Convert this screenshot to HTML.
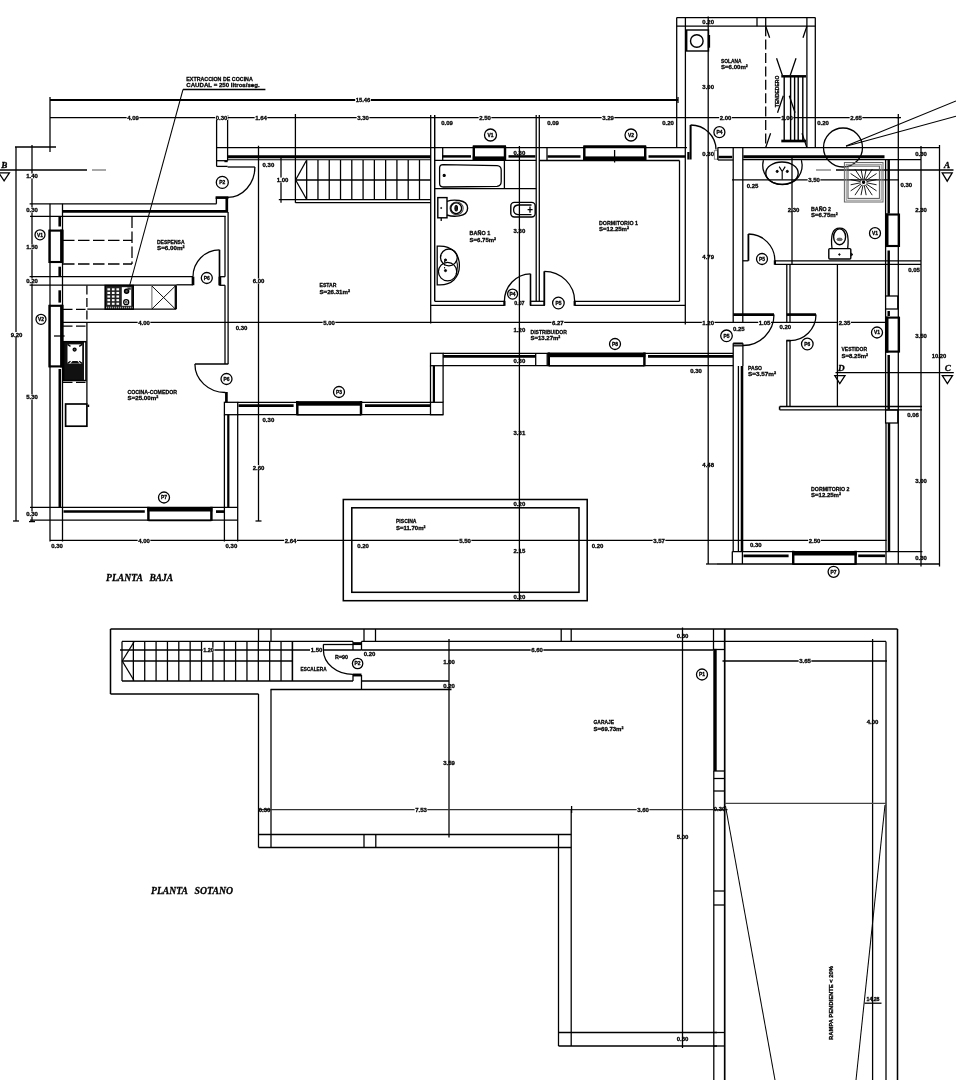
<!DOCTYPE html>
<html lang="es"><head><meta charset="utf-8"><title>Planta baja y planta sotano</title>
<style>
html,body{margin:0;padding:0;background:#fff;}
body{width:956px;height:1080px;overflow:hidden;font-family:"Liberation Sans", "DejaVu Sans", sans-serif;}
svg{display:block;}
text{font-family:"Liberation Sans", "DejaVu Sans", sans-serif;stroke:#000;stroke-width:0.3px;}
text.sf{font-family:"Liberation Serif","DejaVu Serif",serif;}
</style></head><body>
<svg width="956" height="1080" viewBox="0 0 956 1080">
<rect x="0" y="0" width="956" height="1080" fill="#fff"/>
<defs><filter id="gs" x="0" y="0" width="956" height="1080" filterUnits="userSpaceOnUse" color-interpolation-filters="sRGB"><feColorMatrix type="saturate" values="0"/><feGaussianBlur stdDeviation="0.38"/></filter></defs>
<g filter="url(#gs)">
<line x1="50" y1="100" x2="678" y2="100" stroke="#000" stroke-width="1.79"/>
<line x1="50" y1="97" x2="50" y2="152" stroke="#000" stroke-width="1.28"/>
<line x1="678" y1="97" x2="678" y2="103" stroke="#000" stroke-width="1.28"/>
<line x1="50" y1="117.6" x2="899.5" y2="117.6" stroke="#000" stroke-width="1.28"/>
<line x1="216.6" y1="115" x2="216.6" y2="166.4" stroke="#000" stroke-width="1.28"/>
<line x1="227.6" y1="115" x2="227.6" y2="160.7" stroke="#000" stroke-width="1.28"/>
<line x1="295.4" y1="114" x2="295.4" y2="202.8" stroke="#000" stroke-width="1.28"/>
<rect x="355.18" y="97.56" width="15.64" height="4.88" fill="#fff"/>
<text x="363" y="102.2" font-size="6.1" text-anchor="middle" font-weight="bold" fill="#000" textLength="14.64" lengthAdjust="spacingAndGlyphs">15.46</text>
<rect x="126.64" y="115.16" width="12.71" height="4.88" fill="#fff"/>
<text x="133" y="119.8" font-size="6.1" text-anchor="middle" font-weight="bold" fill="#000" textLength="11.71" lengthAdjust="spacingAndGlyphs">4.09</text>
<rect x="215.14" y="115.16" width="12.71" height="4.88" fill="#fff"/>
<text x="221.5" y="119.8" font-size="6.1" text-anchor="middle" font-weight="bold" fill="#000" textLength="11.71" lengthAdjust="spacingAndGlyphs">0.30</text>
<rect x="254.64" y="115.16" width="12.71" height="4.88" fill="#fff"/>
<text x="261" y="119.8" font-size="6.1" text-anchor="middle" font-weight="bold" fill="#000" textLength="11.71" lengthAdjust="spacingAndGlyphs">1.64</text>
<rect x="356.64" y="115.16" width="12.71" height="4.88" fill="#fff"/>
<text x="363" y="119.8" font-size="6.1" text-anchor="middle" font-weight="bold" fill="#000" textLength="11.71" lengthAdjust="spacingAndGlyphs">3.30</text>
<rect x="478.64" y="115.16" width="12.71" height="4.88" fill="#fff"/>
<text x="485" y="119.8" font-size="6.1" text-anchor="middle" font-weight="bold" fill="#000" textLength="11.71" lengthAdjust="spacingAndGlyphs">2.50</text>
<rect x="601.64" y="115.16" width="12.71" height="4.88" fill="#fff"/>
<text x="608" y="119.8" font-size="6.1" text-anchor="middle" font-weight="bold" fill="#000" textLength="11.71" lengthAdjust="spacingAndGlyphs">3.29</text>
<rect x="719.14" y="115.16" width="12.71" height="4.88" fill="#fff"/>
<text x="725.5" y="119.8" font-size="6.1" text-anchor="middle" font-weight="bold" fill="#000" textLength="11.71" lengthAdjust="spacingAndGlyphs">2.00</text>
<rect x="780.64" y="115.16" width="12.71" height="4.88" fill="#fff"/>
<text x="787" y="119.8" font-size="6.1" text-anchor="middle" font-weight="bold" fill="#000" textLength="11.71" lengthAdjust="spacingAndGlyphs">1.00</text>
<rect x="849.64" y="115.16" width="12.71" height="4.88" fill="#fff"/>
<text x="856" y="119.8" font-size="6.1" text-anchor="middle" font-weight="bold" fill="#000" textLength="11.71" lengthAdjust="spacingAndGlyphs">2.65</text>
<text x="447" y="124.5" font-size="6.1" text-anchor="middle" font-weight="bold" fill="#000" textLength="11.71" lengthAdjust="spacingAndGlyphs">0.09</text>
<text x="553" y="124.5" font-size="6.1" text-anchor="middle" font-weight="bold" fill="#000" textLength="11.71" lengthAdjust="spacingAndGlyphs">0.09</text>
<text x="668" y="124.5" font-size="6.1" text-anchor="middle" font-weight="bold" fill="#000" textLength="11.71" lengthAdjust="spacingAndGlyphs">0.20</text>
<text x="823" y="124.5" font-size="6.1" text-anchor="middle" font-weight="bold" fill="#000" textLength="11.71" lengthAdjust="spacingAndGlyphs">0.20</text>
<text x="186.3" y="80.83" font-size="6.2" text-anchor="start" font-weight="bold" fill="#000" textLength="66.5" lengthAdjust="spacingAndGlyphs">EXTRACCION DE COCINA</text>
<text x="186.3" y="87.43" font-size="6.2" text-anchor="start" font-weight="bold" fill="#000" textLength="73.4" lengthAdjust="spacingAndGlyphs">CAUDAL = 250 litros/seg.</text>
<line x1="183" y1="89.5" x2="265.4" y2="89.5" stroke="#000" stroke-width="1.28"/>
<line x1="183" y1="89.5" x2="128.6" y2="289.4" stroke="#000" stroke-width="1.02"/>
<line x1="15" y1="147" x2="56" y2="147" stroke="#000" stroke-width="1.28"/>
<line x1="16" y1="147" x2="16" y2="521" stroke="#000" stroke-width="1.28"/>
<line x1="32" y1="145" x2="32" y2="522" stroke="#000" stroke-width="1.28"/>
<line x1="13" y1="521" x2="19" y2="521" stroke="#000" stroke-width="1.28"/>
<line x1="29" y1="521.6" x2="35" y2="521.6" stroke="#000" stroke-width="1.28"/>
<rect x="25.64" y="173.56" width="12.71" height="4.88" fill="#fff"/>
<text x="32" y="178.2" font-size="6.1" text-anchor="middle" font-weight="bold" fill="#000" textLength="11.71" lengthAdjust="spacingAndGlyphs">1.40</text>
<rect x="25.64" y="207.56" width="12.71" height="4.88" fill="#fff"/>
<text x="32" y="212.2" font-size="6.1" text-anchor="middle" font-weight="bold" fill="#000" textLength="11.71" lengthAdjust="spacingAndGlyphs">0.30</text>
<rect x="25.64" y="244.56" width="12.71" height="4.88" fill="#fff"/>
<text x="32" y="249.2" font-size="6.1" text-anchor="middle" font-weight="bold" fill="#000" textLength="11.71" lengthAdjust="spacingAndGlyphs">1.50</text>
<rect x="25.64" y="278.56" width="12.71" height="4.88" fill="#fff"/>
<text x="32" y="283.2" font-size="6.1" text-anchor="middle" font-weight="bold" fill="#000" textLength="11.71" lengthAdjust="spacingAndGlyphs">0.20</text>
<rect x="25.64" y="394.56" width="12.71" height="4.88" fill="#fff"/>
<text x="32" y="399.2" font-size="6.1" text-anchor="middle" font-weight="bold" fill="#000" textLength="11.71" lengthAdjust="spacingAndGlyphs">5.30</text>
<rect x="25.64" y="511.56" width="12.71" height="4.88" fill="#fff"/>
<text x="32" y="516.2" font-size="6.1" text-anchor="middle" font-weight="bold" fill="#000" textLength="11.71" lengthAdjust="spacingAndGlyphs">0.30</text>
<rect x="10.14" y="332.06" width="12.71" height="4.88" fill="#fff"/>
<text x="16.5" y="336.7" font-size="6.1" text-anchor="middle" font-weight="bold" fill="#000" textLength="11.71" lengthAdjust="spacingAndGlyphs">9.20</text>
<text x="4.2" y="167.71" font-size="9.2" text-anchor="middle" font-weight="bold" fill="#000" class="sf" font-style="italic">B</text>
<line x1="0" y1="170" x2="87" y2="170" stroke="#000" stroke-width="1.28"/>
<line x1="92" y1="170" x2="106" y2="170" stroke="#777" stroke-width="1.28"/>
<path d="M-1.2 172.8 L9.4 172.8 L4.1 180.8 Z" fill="none" stroke="#000" stroke-width="1.28"/>
<line x1="29.6" y1="203.8" x2="216.5" y2="203.8" stroke="#000" stroke-width="1.28"/>
<line x1="216.4" y1="197.4" x2="216.4" y2="203.8" stroke="#000" stroke-width="1.28"/>
<line x1="215.6" y1="197.6" x2="228.4" y2="197.6" stroke="#000" stroke-width="2.69"/>
<line x1="226.8" y1="197" x2="226.8" y2="212" stroke="#000" stroke-width="2.69"/>
<line x1="62.5" y1="211.4" x2="228" y2="211.4" stroke="#000" stroke-width="2.69"/>
<line x1="30" y1="216.3" x2="225.7" y2="216.3" stroke="#000" stroke-width="1.28"/>
<line x1="50" y1="203.8" x2="50" y2="541.5" stroke="#000" stroke-width="1.28"/>
<line x1="62.5" y1="203.8" x2="62.5" y2="541.5" stroke="#000" stroke-width="1.28"/>
<line x1="59.7" y1="217" x2="59.7" y2="226.5" stroke="#000" stroke-width="2.58"/>
<rect x="60.1" y="229.6" width="3.5" height="33.4" fill="#000" stroke="#000" stroke-width="0"/>
<line x1="49.4" y1="229.6" x2="49.4" y2="263" stroke="#000" stroke-width="2.13"/>
<line x1="49.4" y1="230.6" x2="63" y2="230.6" stroke="#000" stroke-width="2.13"/>
<line x1="49.4" y1="262" x2="63" y2="262" stroke="#000" stroke-width="2.13"/>
<line x1="59.7" y1="266.7" x2="59.7" y2="276" stroke="#000" stroke-width="2.58"/>
<circle cx="40" cy="234.8" r="5" fill="#fff" stroke="#000" stroke-width="1.28"/>
<text x="40" y="236.73" font-size="4.8" text-anchor="middle" font-weight="bold" fill="#000" textLength="6" lengthAdjust="spacingAndGlyphs">V1</text>
<line x1="63" y1="240.3" x2="132" y2="240.3" stroke="#000" stroke-width="1.28" stroke-dasharray="11.5 3.5"/>
<line x1="63" y1="264" x2="132" y2="264" stroke="#000" stroke-width="1.28" stroke-dasharray="11.5 3.5"/>
<line x1="132" y1="216.5" x2="132" y2="264" stroke="#000" stroke-width="1.28" stroke-dasharray="11.5 3.5"/>
<text x="157" y="243.63" font-size="6.2" text-anchor="start" font-weight="bold" fill="#000" textLength="27.5" lengthAdjust="spacingAndGlyphs">DESPENSA</text>
<text x="157" y="250.23" font-size="6.2" text-anchor="start" font-weight="bold" fill="#000" textLength="27.5" lengthAdjust="spacingAndGlyphs">S=6.00m²</text>
<line x1="29.6" y1="276.7" x2="193" y2="276.7" stroke="#000" stroke-width="1.28"/>
<line x1="29.6" y1="285.2" x2="176.3" y2="285.2" stroke="#000" stroke-width="1.28"/>
<line x1="176.3" y1="284.8" x2="193" y2="284.8" stroke="#000" stroke-width="1.28"/>
<line x1="193" y1="276.7" x2="193" y2="285.2" stroke="#000" stroke-width="2.69"/>
<line x1="225" y1="216.3" x2="225" y2="276.7" stroke="#000" stroke-width="1.28"/>
<line x1="228.1" y1="212" x2="228.1" y2="364" stroke="#000" stroke-width="1.28"/>
<line x1="219.5" y1="249.8" x2="219.5" y2="285.3" stroke="#000" stroke-width="1.68"/>
<line x1="219.5" y1="276.7" x2="225" y2="276.7" stroke="#000" stroke-width="1.28"/>
<line x1="219.5" y1="285.3" x2="225" y2="285.3" stroke="#000" stroke-width="1.28"/>
<line x1="219.9" y1="276.7" x2="219.9" y2="285.3" stroke="#000" stroke-width="2.69"/>
<line x1="225" y1="285.2" x2="225" y2="364" stroke="#000" stroke-width="1.28"/>
<path d="M219.5 249.8 A26.7 26.9 0 0 0 193 276.7" fill="none" stroke="#000" stroke-width="1.28"/>
<circle cx="206.8" cy="278" r="5.5" fill="#fff" stroke="#000" stroke-width="1.28"/>
<text x="206.8" y="279.93" font-size="4.8" text-anchor="middle" font-weight="bold" fill="#000" textLength="6" lengthAdjust="spacingAndGlyphs">P6</text>
<line x1="59.7" y1="290.3" x2="59.7" y2="302.6" stroke="#000" stroke-width="2.58"/>
<rect x="60.1" y="304.8" width="3.5" height="62.6" fill="#000" stroke="#000" stroke-width="0"/>
<line x1="49.4" y1="304.8" x2="49.4" y2="367.4" stroke="#000" stroke-width="2.13"/>
<line x1="49.4" y1="305.8" x2="63" y2="305.8" stroke="#000" stroke-width="2.13"/>
<line x1="49.4" y1="366.4" x2="63" y2="366.4" stroke="#000" stroke-width="2.13"/>
<line x1="54" y1="336" x2="64.6" y2="336" stroke="#000" stroke-width="1.28"/>
<line x1="59.8" y1="369" x2="59.8" y2="507.5" stroke="#000" stroke-width="2.58"/>
<circle cx="41" cy="319.3" r="5" fill="#fff" stroke="#000" stroke-width="1.28"/>
<text x="41" y="321.23" font-size="4.8" text-anchor="middle" font-weight="bold" fill="#000" textLength="6" lengthAdjust="spacingAndGlyphs">V2</text>
<line x1="176.3" y1="285.2" x2="176.3" y2="309.1" stroke="#000" stroke-width="1.28"/>
<line x1="87.3" y1="309.1" x2="176.3" y2="309.1" stroke="#000" stroke-width="1.28"/>
<line x1="151.9" y1="285.2" x2="151.9" y2="309.1" stroke="#666" stroke-width="1.02"/>
<line x1="175.3" y1="285.2" x2="175.3" y2="309.1" stroke="#000" stroke-width="1.28"/>
<line x1="151.9" y1="286" x2="175.3" y2="309" stroke="#000" stroke-width="0.96"/>
<line x1="151.9" y1="309" x2="175.3" y2="286" stroke="#000" stroke-width="0.96"/>
<rect x="105.2" y="285.5" width="28" height="23.6" fill="#222" stroke="#000" stroke-width="1.57"/>
<rect x="107.4" y="288.3" width="2.7" height="2.1" fill="#fff" stroke="#000" stroke-width="0"/>
<rect x="107.4" y="291.9" width="2.7" height="2.1" fill="#fff" stroke="#000" stroke-width="0"/>
<rect x="107.4" y="295.5" width="2.7" height="2.1" fill="#fff" stroke="#000" stroke-width="0"/>
<rect x="107.4" y="299.1" width="2.7" height="2.1" fill="#fff" stroke="#000" stroke-width="0"/>
<rect x="107.4" y="302.7" width="2.7" height="2.1" fill="#fff" stroke="#000" stroke-width="0"/>
<rect x="111.9" y="288.3" width="2.7" height="2.1" fill="#fff" stroke="#000" stroke-width="0"/>
<rect x="111.9" y="291.9" width="2.7" height="2.1" fill="#fff" stroke="#000" stroke-width="0"/>
<rect x="111.9" y="295.5" width="2.7" height="2.1" fill="#fff" stroke="#000" stroke-width="0"/>
<rect x="111.9" y="299.1" width="2.7" height="2.1" fill="#fff" stroke="#000" stroke-width="0"/>
<rect x="111.9" y="302.7" width="2.7" height="2.1" fill="#fff" stroke="#000" stroke-width="0"/>
<rect x="116.4" y="288.3" width="2.7" height="2.1" fill="#fff" stroke="#000" stroke-width="0"/>
<rect x="116.4" y="291.9" width="2.7" height="2.1" fill="#fff" stroke="#000" stroke-width="0"/>
<rect x="116.4" y="295.5" width="2.7" height="2.1" fill="#fff" stroke="#000" stroke-width="0"/>
<rect x="116.4" y="299.1" width="2.7" height="2.1" fill="#fff" stroke="#000" stroke-width="0"/>
<rect x="116.4" y="302.7" width="2.7" height="2.1" fill="#fff" stroke="#000" stroke-width="0"/>
<rect x="121.8" y="287.2" width="9.4" height="18.6" fill="#fff" stroke="#000" stroke-width="0"/>
<circle cx="126.6" cy="291.2" r="2" fill="#555" stroke="#000" stroke-width="1.57"/>
<rect x="127.4" y="287.4" width="3.4" height="2.4" fill="#333" stroke="#000" stroke-width="0"/>
<circle cx="126.2" cy="302.2" r="2.5" fill="none" stroke="#000" stroke-width="1.28"/>
<circle cx="126.2" cy="302.2" r="0.9" fill="none" stroke="#000" stroke-width="0.77"/>
<line x1="106" y1="307.6" x2="132.6" y2="307.6" stroke="#aaa" stroke-width="1.54" stroke-dasharray="1.2 0.8"/>
<line x1="86.9" y1="285.5" x2="86.9" y2="326" stroke="#000" stroke-width="1.28" stroke-dasharray="9 3.5"/>
<line x1="86.9" y1="326" x2="86.9" y2="403.7" stroke="#000" stroke-width="1.28"/>
<line x1="63" y1="309.4" x2="86.9" y2="309.4" stroke="#000" stroke-width="1.28" stroke-dasharray="9.5 3.5"/>
<line x1="63" y1="326.2" x2="86.9" y2="326.2" stroke="#000" stroke-width="1.28" stroke-dasharray="9.5 3.5"/>
<line x1="63" y1="382.3" x2="86.9" y2="382.3" stroke="#000" stroke-width="1.28" stroke-dasharray="9.5 3.5"/>
<rect x="63.6" y="341.7" width="22.3" height="38.8" fill="#111" stroke="#000" stroke-width="1.54"/>
<rect x="67.5" y="344.4" width="14.7" height="19.2" fill="#fff" stroke="#000" stroke-width="0"/>
<rect x="84" y="342.5" width="1.2" height="37.3" fill="#fff" stroke="#000" stroke-width="0"/>
<circle cx="74.6" cy="349.6" r="1.5" fill="#555" stroke="#000" stroke-width="1.28"/>
<path d="M67.5 344.4 l3 2 M82.2 344.4 l-3 2 M67.5 363.6 l3 -2.4 M82.2 363.6 l-3 -2.4" fill="none" stroke="#000" stroke-width="1.28"/>
<path d="M70.5 363.6 L72.5 361 L77.5 361 L79.5 363.6 Z" fill="#111" stroke="#000" stroke-width="0"/>
<rect x="65.6" y="404" width="21.3" height="22.2" fill="none" stroke="#000" stroke-width="1.68"/>
<rect x="87.4" y="404.6" width="1.8" height="2.4" fill="#000" stroke="#000" stroke-width="0"/>
<line x1="62.5" y1="322.3" x2="887" y2="322.3" stroke="#000" stroke-width="1.28"/>
<rect x="137.64" y="319.86" width="12.71" height="4.88" fill="#fff"/>
<text x="144" y="324.5" font-size="6.1" text-anchor="middle" font-weight="bold" fill="#000" textLength="11.71" lengthAdjust="spacingAndGlyphs">4.00</text>
<text x="127.5" y="393.73" font-size="6.2" text-anchor="start" font-weight="bold" fill="#000" textLength="49.5" lengthAdjust="spacingAndGlyphs">COCINA-COMEDOR</text>
<text x="127.5" y="400.33" font-size="6.2" text-anchor="start" font-weight="bold" fill="#000" textLength="30.8" lengthAdjust="spacingAndGlyphs">S=25.00m²</text>
<line x1="194.9" y1="364" x2="228.3" y2="364" stroke="#000" stroke-width="1.28"/>
<path d="M194.9 364 A30.4 28.5 0 0 0 225.3 392.5" fill="none" stroke="#000" stroke-width="1.28"/>
<line x1="226.4" y1="392" x2="226.4" y2="402" stroke="#000" stroke-width="2.69"/>
<circle cx="226.5" cy="379" r="5.5" fill="#fff" stroke="#000" stroke-width="1.28"/>
<text x="226.5" y="380.93" font-size="4.8" text-anchor="middle" font-weight="bold" fill="#000" textLength="6" lengthAdjust="spacingAndGlyphs">P6</text>
<rect x="224.4" y="402.3" width="13.3" height="12.4" fill="none" stroke="#000" stroke-width="1.28"/>
<line x1="224.4" y1="414.7" x2="224.4" y2="541.5" stroke="#000" stroke-width="1.28"/>
<line x1="228.3" y1="414.7" x2="228.3" y2="507.3" stroke="#000" stroke-width="2.24"/>
<line x1="237.7" y1="414.7" x2="237.7" y2="541.5" stroke="#000" stroke-width="1.28"/>
<line x1="30" y1="507.4" x2="237.7" y2="507.4" stroke="#000" stroke-width="1.28"/>
<line x1="30" y1="520.2" x2="237.7" y2="520.2" stroke="#000" stroke-width="1.28"/>
<line x1="63.5" y1="511.5" x2="144.8" y2="511.5" stroke="#000" stroke-width="2.69"/>
<rect x="147.4" y="507" width="65" height="4.5" fill="#000" stroke="#000" stroke-width="0"/>
<line x1="148.4" y1="520.4" x2="211.4" y2="520.4" stroke="#000" stroke-width="1.46"/>
<line x1="148.4" y1="506.8" x2="148.4" y2="520.9" stroke="#000" stroke-width="2.46"/>
<line x1="211.4" y1="506.8" x2="211.4" y2="520.9" stroke="#000" stroke-width="2.46"/>
<line x1="216" y1="511.6" x2="224" y2="511.6" stroke="#000" stroke-width="2.69"/>
<circle cx="164" cy="497.5" r="5.5" fill="#fff" stroke="#000" stroke-width="1.28"/>
<text x="164" y="499.43" font-size="4.8" text-anchor="middle" font-weight="bold" fill="#000" textLength="6" lengthAdjust="spacingAndGlyphs">P7</text>
<line x1="50" y1="540.3" x2="886.6" y2="540.3" stroke="#000" stroke-width="1.28"/>
<rect x="137.64" y="537.86" width="12.71" height="4.88" fill="#fff"/>
<text x="144" y="542.5" font-size="6.1" text-anchor="middle" font-weight="bold" fill="#000" textLength="11.71" lengthAdjust="spacingAndGlyphs">4.00</text>
<rect x="284.14" y="537.86" width="12.71" height="4.88" fill="#fff"/>
<text x="290.5" y="542.5" font-size="6.1" text-anchor="middle" font-weight="bold" fill="#000" textLength="11.71" lengthAdjust="spacingAndGlyphs">2.64</text>
<rect x="458.64" y="537.86" width="12.71" height="4.88" fill="#fff"/>
<text x="465" y="542.5" font-size="6.1" text-anchor="middle" font-weight="bold" fill="#000" textLength="11.71" lengthAdjust="spacingAndGlyphs">5.50</text>
<rect x="652.64" y="537.86" width="12.71" height="4.88" fill="#fff"/>
<text x="659" y="542.5" font-size="6.1" text-anchor="middle" font-weight="bold" fill="#000" textLength="11.71" lengthAdjust="spacingAndGlyphs">3.57</text>
<text x="57" y="547.5" font-size="6.1" text-anchor="middle" font-weight="bold" fill="#000" textLength="11.71" lengthAdjust="spacingAndGlyphs">0.30</text>
<text x="231.4" y="547.5" font-size="6.1" text-anchor="middle" font-weight="bold" fill="#000" textLength="11.71" lengthAdjust="spacingAndGlyphs">0.30</text>
<text x="363" y="547.5" font-size="6.1" text-anchor="middle" font-weight="bold" fill="#000" textLength="11.71" lengthAdjust="spacingAndGlyphs">0.20</text>
<text x="597.5" y="547.5" font-size="6.1" text-anchor="middle" font-weight="bold" fill="#000" textLength="11.71" lengthAdjust="spacingAndGlyphs">0.20</text>
<text x="106" y="581.17" font-size="10.2" text-anchor="start" font-weight="bold" fill="#000" class="sf" font-style="italic" textLength="37" lengthAdjust="spacingAndGlyphs">PLANTA</text>
<text x="149.4" y="581.17" font-size="10.2" text-anchor="start" font-weight="bold" fill="#000" class="sf" font-style="italic" textLength="23.8" lengthAdjust="spacingAndGlyphs">BAJA</text>
<line x1="216.6" y1="147.6" x2="687" y2="147.6" stroke="#000" stroke-width="1.28"/>
<line x1="227.6" y1="156.7" x2="431" y2="156.7" stroke="#000" stroke-width="3.14"/>
<line x1="227.6" y1="159.7" x2="431" y2="159.7" stroke="#000" stroke-width="1.02"/>
<line x1="216.6" y1="160.7" x2="227.6" y2="160.7" stroke="#000" stroke-width="1.28"/>
<line x1="216.6" y1="166.4" x2="227.6" y2="166.4" stroke="#000" stroke-width="1.28"/>
<rect x="224.4" y="160.7" width="3.2" height="1.5" fill="#000" stroke="#000" stroke-width="0"/>
<line x1="227.6" y1="167" x2="254.9" y2="167" stroke="#000" stroke-width="1.28"/>
<path d="M254.9 167 A27.3 30.4 0 0 1 227.6 197.4" fill="none" stroke="#000" stroke-width="1.28"/>
<circle cx="222.3" cy="182.4" r="6" fill="#fff" stroke="#000" stroke-width="1.28"/>
<text x="222.3" y="184.33" font-size="4.8" text-anchor="middle" font-weight="bold" fill="#000" textLength="6" lengthAdjust="spacingAndGlyphs">P2</text>
<line x1="258.5" y1="145.7" x2="258.5" y2="521" stroke="#000" stroke-width="1.28"/>
<line x1="255.5" y1="521" x2="261.5" y2="521" stroke="#000" stroke-width="1.28"/>
<rect x="252.14" y="278.56" width="12.71" height="4.88" fill="#fff"/>
<text x="258.5" y="283.2" font-size="6.1" text-anchor="middle" font-weight="bold" fill="#000" textLength="11.71" lengthAdjust="spacingAndGlyphs">6.00</text>
<rect x="252.14" y="465.16" width="12.71" height="4.88" fill="#fff"/>
<text x="258.5" y="469.8" font-size="6.1" text-anchor="middle" font-weight="bold" fill="#000" textLength="11.71" lengthAdjust="spacingAndGlyphs">2.60</text>
<text x="268.4" y="167.2" font-size="6.1" text-anchor="middle" font-weight="bold" fill="#000" textLength="11.71" lengthAdjust="spacingAndGlyphs">0.30</text>
<text x="268.4" y="422.2" font-size="6.1" text-anchor="middle" font-weight="bold" fill="#000" textLength="11.71" lengthAdjust="spacingAndGlyphs">0.30</text>
<text x="241.5" y="330.2" font-size="6.1" text-anchor="middle" font-weight="bold" fill="#000" textLength="11.71" lengthAdjust="spacingAndGlyphs">0.30</text>
<rect x="322.64" y="319.86" width="12.71" height="4.88" fill="#fff"/>
<text x="329" y="324.5" font-size="6.1" text-anchor="middle" font-weight="bold" fill="#000" textLength="11.71" lengthAdjust="spacingAndGlyphs">5.00</text>
<text x="319.5" y="287.03" font-size="6.2" text-anchor="start" font-weight="bold" fill="#000" textLength="17" lengthAdjust="spacingAndGlyphs">ESTAR</text>
<text x="319.5" y="293.63" font-size="6.2" text-anchor="start" font-weight="bold" fill="#000" textLength="30.5" lengthAdjust="spacingAndGlyphs">S=26.31m²</text>
<line x1="281" y1="157.6" x2="281" y2="202.8" stroke="#000" stroke-width="1.28"/>
<line x1="278.8" y1="199.6" x2="431" y2="199.6" stroke="#000" stroke-width="1.28"/>
<line x1="295.4" y1="202.7" x2="431" y2="202.7" stroke="#000" stroke-width="1.28"/>
<line x1="295.4" y1="180" x2="431" y2="180" stroke="#000" stroke-width="1.28"/>
<line x1="306.68" y1="160" x2="306.68" y2="199.6" stroke="#000" stroke-width="1.28"/>
<line x1="317.96" y1="160" x2="317.96" y2="199.6" stroke="#000" stroke-width="1.28"/>
<line x1="329.24" y1="160" x2="329.24" y2="199.6" stroke="#000" stroke-width="1.28"/>
<line x1="340.52" y1="160" x2="340.52" y2="199.6" stroke="#000" stroke-width="1.28"/>
<line x1="351.8" y1="160" x2="351.8" y2="199.6" stroke="#000" stroke-width="1.28"/>
<line x1="363.08" y1="160" x2="363.08" y2="199.6" stroke="#000" stroke-width="1.28"/>
<line x1="374.36" y1="160" x2="374.36" y2="199.6" stroke="#000" stroke-width="1.28"/>
<line x1="385.64" y1="160" x2="385.64" y2="199.6" stroke="#000" stroke-width="1.28"/>
<line x1="396.92" y1="160" x2="396.92" y2="199.6" stroke="#000" stroke-width="1.28"/>
<line x1="408.2" y1="160" x2="408.2" y2="199.6" stroke="#000" stroke-width="1.28"/>
<line x1="419.48" y1="160" x2="419.48" y2="199.6" stroke="#000" stroke-width="1.28"/>
<line x1="295.6" y1="180" x2="306.4" y2="160.5" stroke="#000" stroke-width="1.28"/>
<line x1="295.6" y1="180" x2="306.4" y2="199" stroke="#000" stroke-width="1.28"/>
<rect x="276.14" y="177.56" width="12.71" height="4.88" fill="#fff"/>
<text x="282.5" y="182.2" font-size="6.1" text-anchor="middle" font-weight="bold" fill="#000" textLength="11.71" lengthAdjust="spacingAndGlyphs">1.00</text>
<line x1="237.7" y1="402.3" x2="430.5" y2="402.3" stroke="#000" stroke-width="1.28"/>
<line x1="237.7" y1="414.7" x2="443.1" y2="414.7" stroke="#000" stroke-width="1.28"/>
<line x1="238.5" y1="405.7" x2="293.6" y2="405.7" stroke="#000" stroke-width="2.69"/>
<rect x="296.3" y="401.2" width="65.7" height="4.5" fill="#000" stroke="#000" stroke-width="0"/>
<line x1="297.3" y1="414.8" x2="361" y2="414.8" stroke="#000" stroke-width="1.46"/>
<line x1="297.3" y1="401" x2="297.3" y2="415.3" stroke="#000" stroke-width="2.46"/>
<line x1="361" y1="401" x2="361" y2="415.3" stroke="#000" stroke-width="2.46"/>
<line x1="365" y1="405.7" x2="430.5" y2="405.7" stroke="#000" stroke-width="2.69"/>
<circle cx="339" cy="392" r="5.5" fill="#fff" stroke="#000" stroke-width="1.28"/>
<text x="339" y="393.93" font-size="4.8" text-anchor="middle" font-weight="bold" fill="#000" textLength="6" lengthAdjust="spacingAndGlyphs">P3</text>
<rect x="430.5" y="353.3" width="12.6" height="12.4" fill="none" stroke="#000" stroke-width="1.28"/>
<rect x="430.5" y="402.3" width="12.6" height="12.4" fill="none" stroke="#000" stroke-width="1.28"/>
<line x1="430.5" y1="365.7" x2="430.5" y2="402.3" stroke="#000" stroke-width="1.28"/>
<line x1="443.1" y1="365.7" x2="443.1" y2="402.3" stroke="#000" stroke-width="1.28"/>
<line x1="433.9" y1="365.7" x2="433.9" y2="402.3" stroke="#000" stroke-width="2.24"/>
<line x1="443.1" y1="353.3" x2="733.2" y2="353.3" stroke="#000" stroke-width="1.28"/>
<line x1="443.1" y1="365.7" x2="733.2" y2="365.7" stroke="#000" stroke-width="1.28"/>
<line x1="443.1" y1="356.3" x2="535.7" y2="356.3" stroke="#000" stroke-width="2.69"/>
<line x1="535.7" y1="353.3" x2="535.7" y2="365.7" stroke="#000" stroke-width="1.28"/>
<line x1="547.2" y1="353.3" x2="547.2" y2="365.7" stroke="#000" stroke-width="1.28"/>
<rect x="547.8" y="352.7" width="97.6" height="4.5" fill="#000" stroke="#000" stroke-width="0"/>
<line x1="548.8" y1="365.7" x2="644.4" y2="365.7" stroke="#000" stroke-width="1.46"/>
<line x1="548.8" y1="352.5" x2="548.8" y2="366.2" stroke="#000" stroke-width="2.46"/>
<line x1="644.4" y1="352.5" x2="644.4" y2="366.2" stroke="#000" stroke-width="2.46"/>
<line x1="648" y1="356.3" x2="733.2" y2="356.3" stroke="#000" stroke-width="2.69"/>
<circle cx="615" cy="344" r="5.5" fill="#fff" stroke="#000" stroke-width="1.28"/>
<text x="615" y="345.93" font-size="4.8" text-anchor="middle" font-weight="bold" fill="#000" textLength="6" lengthAdjust="spacingAndGlyphs">P8</text>
<line x1="430.7" y1="115" x2="430.7" y2="323.5" stroke="#000" stroke-width="1.28"/>
<line x1="434.7" y1="115" x2="434.7" y2="301.3" stroke="#000" stroke-width="1.46"/>
<line x1="536.2" y1="115" x2="536.2" y2="301.3" stroke="#000" stroke-width="1.28"/>
<line x1="539.3" y1="115" x2="539.3" y2="301.3" stroke="#000" stroke-width="1.28"/>
<line x1="442.7" y1="147.6" x2="442.7" y2="160" stroke="#000" stroke-width="1.28"/>
<line x1="442" y1="156.4" x2="471" y2="156.4" stroke="#000" stroke-width="2.46"/>
<rect x="472.8" y="156.4" width="33.2" height="4.3" fill="#000" stroke="#000" stroke-width="0"/>
<line x1="472.8" y1="146.2" x2="506" y2="146.2" stroke="#000" stroke-width="2.02"/>
<line x1="473.8" y1="146.4" x2="473.8" y2="160.3" stroke="#000" stroke-width="2.46"/>
<line x1="505" y1="146.4" x2="505" y2="160.3" stroke="#000" stroke-width="2.46"/>
<line x1="508.5" y1="156.4" x2="535.4" y2="156.4" stroke="#000" stroke-width="2.46"/>
<line x1="434.7" y1="160.4" x2="536.2" y2="160.4" stroke="#000" stroke-width="1.28"/>
<line x1="504.4" y1="160.4" x2="504.4" y2="188.7" stroke="#000" stroke-width="1.28"/>
<line x1="434.7" y1="188.7" x2="536.2" y2="188.7" stroke="#000" stroke-width="1.28"/>
<path d="M443 164.6 L497 165.6 Q501.2 166 501.2 170 L501.2 181.6 Q501.2 186 497 186.3 L443 187 Q439.6 187 439.6 183.6 L439.6 168 Q439.6 164.6 443 164.6 Z" fill="none" stroke="#000" stroke-width="1.28"/>
<circle cx="444.2" cy="175.4" r="1.1" fill="#000" stroke="#000" stroke-width="1.02"/>
<rect x="437.8" y="197.6" width="9.2" height="20.2" fill="none" stroke="#000" stroke-width="1.41"/>
<circle cx="441.2" cy="208" r="0.6" fill="#000" stroke="#000" stroke-width="0.77"/>
<line x1="441.2" y1="218" x2="441.2" y2="221" stroke="#000" stroke-width="1.28"/>
<path d="M447 201.4 C452 199.6 467.6 198.6 467.6 208.2 C467.6 217.8 452 216.8 447 215" fill="none" stroke="#000" stroke-width="1.41"/>
<ellipse cx="456.6" cy="208.3" rx="6.6" ry="6.4" fill="none" stroke="#444" stroke-width="1.02"/>
<ellipse cx="456.2" cy="208.3" rx="5.4" ry="5.4" fill="none" stroke="#000" stroke-width="1.41"/>
<ellipse cx="456.2" cy="208.3" rx="1.3" ry="2.7" fill="#222" stroke="#000" stroke-width="1.02"/>
<rect x="510.8" y="202.4" width="24.4" height="14.6" fill="none" stroke="#000" stroke-width="1.41" rx="3.5"/>
<path d="M531.5 205 L518 205 Q513.6 205.4 513.6 209.7 Q513.6 214 518 214.6 L531.5 214.6" fill="none" stroke="#000" stroke-width="1.28"/>
<path d="M530 206.6 V212.8 M527.6 209.7 H532.6" fill="none" stroke="#000" stroke-width="1.28"/>
<path d="M437.2 246.2 C452 245 459.4 254 459.4 265.6 C459.4 277 452 286 437.2 284.8 Z" fill="none" stroke="#000" stroke-width="1.28"/>
<circle cx="447.6" cy="271.6" r="9.2" fill="none" stroke="#000" stroke-width="1.28"/>
<circle cx="448.9" cy="257.4" r="8.4" fill="none" stroke="#000" stroke-width="1.28"/>
<path d="M456.6 261 Q458.4 266 456.2 274" fill="none" stroke="#000" stroke-width="1.02"/>
<circle cx="445.5" cy="260" r="1.1" fill="#000" stroke="#000" stroke-width="0.9"/>
<circle cx="445.5" cy="270.6" r="1.1" fill="#000" stroke="#000" stroke-width="0.9"/>
<line x1="444.6" y1="261" x2="444.6" y2="270" stroke="#000" stroke-width="1.02" stroke-dasharray="1.5 1.5"/>
<text x="469.6" y="235.23" font-size="6.2" text-anchor="start" font-weight="bold" fill="#000" textLength="20.6" lengthAdjust="spacingAndGlyphs">BAÑO 1</text>
<text x="469.6" y="241.63" font-size="6.2" text-anchor="start" font-weight="bold" fill="#000" textLength="26.5" lengthAdjust="spacingAndGlyphs">S=6.75m²</text>
<line x1="519.4" y1="146" x2="519.4" y2="601" stroke="#000" stroke-width="1.28"/>
<text x="519.4" y="154.7" font-size="6.1" text-anchor="middle" font-weight="bold" fill="#000" textLength="11.71" lengthAdjust="spacingAndGlyphs">0.30</text>
<text x="519.4" y="232.9" font-size="6.1" text-anchor="middle" font-weight="bold" fill="#000" textLength="11.71" lengthAdjust="spacingAndGlyphs">3.30</text>
<text x="519.4" y="305.44" font-size="5.4" text-anchor="middle" font-weight="bold" fill="#000" textLength="10.37" lengthAdjust="spacingAndGlyphs">0.07</text>
<text x="519.4" y="331.6" font-size="6.1" text-anchor="middle" font-weight="bold" fill="#000" textLength="11.71" lengthAdjust="spacingAndGlyphs">1.20</text>
<text x="519.4" y="363.2" font-size="6.1" text-anchor="middle" font-weight="bold" fill="#000" textLength="11.71" lengthAdjust="spacingAndGlyphs">0.30</text>
<text x="519.4" y="435.2" font-size="6.1" text-anchor="middle" font-weight="bold" fill="#000" textLength="11.71" lengthAdjust="spacingAndGlyphs">3.31</text>
<text x="519.4" y="506.2" font-size="6.1" text-anchor="middle" font-weight="bold" fill="#000" textLength="11.71" lengthAdjust="spacingAndGlyphs">0.20</text>
<text x="519.4" y="552.7" font-size="6.1" text-anchor="middle" font-weight="bold" fill="#000" textLength="11.71" lengthAdjust="spacingAndGlyphs">2.15</text>
<text x="519.4" y="599.2" font-size="6.1" text-anchor="middle" font-weight="bold" fill="#000" textLength="11.71" lengthAdjust="spacingAndGlyphs">0.20</text>
<line x1="434.7" y1="301.3" x2="504.4" y2="301.3" stroke="#000" stroke-width="1.28"/>
<line x1="430.7" y1="305.3" x2="504.4" y2="305.3" stroke="#000" stroke-width="1.28"/>
<line x1="504.4" y1="300.8" x2="504.4" y2="305.8" stroke="#000" stroke-width="2.24"/>
<line x1="530.5" y1="273.8" x2="530.5" y2="305.3" stroke="#000" stroke-width="1.57"/>
<path d="M530.5 273.8 A26.5 27.5 0 0 0 504.4 301.3" fill="none" stroke="#000" stroke-width="1.28"/>
<circle cx="512.6" cy="294.1" r="5" fill="#fff" stroke="#000" stroke-width="1.28"/>
<text x="512.6" y="296.03" font-size="4.8" text-anchor="middle" font-weight="bold" fill="#000" textLength="6" lengthAdjust="spacingAndGlyphs">P4</text>
<rect x="530.5" y="301.3" width="13.8" height="4" fill="none" stroke="#000" stroke-width="1.28"/>
<line x1="544.3" y1="271.3" x2="544.3" y2="305.3" stroke="#000" stroke-width="1.79"/>
<path d="M544.3 271.3 A30.4 30.1 0 0 1 574.7 301.4" fill="none" stroke="#000" stroke-width="1.28"/>
<circle cx="558.4" cy="303" r="5.8" fill="#fff" stroke="#000" stroke-width="1.28"/>
<text x="558.4" y="304.93" font-size="4.8" text-anchor="middle" font-weight="bold" fill="#000" textLength="6" lengthAdjust="spacingAndGlyphs">P5</text>
<line x1="547" y1="147.6" x2="547" y2="160.4" stroke="#000" stroke-width="1.28"/>
<line x1="547.5" y1="156.5" x2="580.5" y2="156.5" stroke="#000" stroke-width="2.46"/>
<rect x="583.3" y="156.4" width="62.9" height="4.3" fill="#000" stroke="#000" stroke-width="0"/>
<line x1="583.3" y1="146.2" x2="646.2" y2="146.2" stroke="#000" stroke-width="2.02"/>
<line x1="584.3" y1="146.4" x2="584.3" y2="160.3" stroke="#000" stroke-width="2.46"/>
<line x1="645.2" y1="146.4" x2="645.2" y2="160.3" stroke="#000" stroke-width="2.46"/>
<line x1="614.6" y1="150" x2="614.6" y2="162.5" stroke="#000" stroke-width="1.28"/>
<line x1="648.5" y1="156.5" x2="685.3" y2="156.5" stroke="#000" stroke-width="2.46"/>
<line x1="539.3" y1="160.5" x2="679.5" y2="160.5" stroke="#000" stroke-width="1.28"/>
<line x1="679.5" y1="160.5" x2="679.5" y2="301.4" stroke="#000" stroke-width="1.28"/>
<line x1="685.3" y1="147.6" x2="685.3" y2="324.5" stroke="#000" stroke-width="1.28"/>
<line x1="574.7" y1="301.4" x2="679.5" y2="301.4" stroke="#000" stroke-width="1.28"/>
<line x1="574.7" y1="305.3" x2="685.3" y2="305.3" stroke="#000" stroke-width="1.28"/>
<line x1="574.7" y1="300.8" x2="574.7" y2="305.8" stroke="#000" stroke-width="2.24"/>
<circle cx="490.5" cy="135" r="6" fill="#fff" stroke="#000" stroke-width="1.28"/>
<text x="490.5" y="136.93" font-size="4.8" text-anchor="middle" font-weight="bold" fill="#000" textLength="6" lengthAdjust="spacingAndGlyphs">V1</text>
<circle cx="631" cy="135" r="6" fill="#fff" stroke="#000" stroke-width="1.28"/>
<text x="631" y="136.93" font-size="4.8" text-anchor="middle" font-weight="bold" fill="#000" textLength="6" lengthAdjust="spacingAndGlyphs">V2</text>
<text x="599" y="224.63" font-size="6.2" text-anchor="start" font-weight="bold" fill="#000" textLength="39" lengthAdjust="spacingAndGlyphs">DORMITORIO 1</text>
<text x="599" y="231.23" font-size="6.2" text-anchor="start" font-weight="bold" fill="#000" textLength="30" lengthAdjust="spacingAndGlyphs">S=12.25m²</text>
<rect x="551.44" y="319.86" width="12.71" height="4.88" fill="#fff"/>
<text x="557.8" y="324.5" font-size="6.1" text-anchor="middle" font-weight="bold" fill="#000" textLength="11.71" lengthAdjust="spacingAndGlyphs">6.27</text>
<rect x="701.84" y="319.86" width="12.71" height="4.88" fill="#fff"/>
<text x="708.2" y="324.5" font-size="6.1" text-anchor="middle" font-weight="bold" fill="#000" textLength="11.71" lengthAdjust="spacingAndGlyphs">1.20</text>
<text x="530.5" y="333.83" font-size="6.2" text-anchor="start" font-weight="bold" fill="#000" textLength="36.3" lengthAdjust="spacingAndGlyphs">DISTRIBUIDOR</text>
<text x="530.5" y="340.13" font-size="6.2" text-anchor="start" font-weight="bold" fill="#000" textLength="29.8" lengthAdjust="spacingAndGlyphs">S=13.27m²</text>
<rect x="343.3" y="499.5" width="243.9" height="101.2" fill="none" stroke="#000" stroke-width="1.54"/>
<rect x="351.8" y="507.8" width="227.2" height="84.5" fill="none" stroke="#000" stroke-width="1.54"/>
<text x="396" y="523.03" font-size="6.2" text-anchor="start" font-weight="bold" fill="#000" textLength="20.5" lengthAdjust="spacingAndGlyphs">PISCINA</text>
<text x="396" y="529.63" font-size="6.2" text-anchor="start" font-weight="bold" fill="#000" textLength="29.5" lengthAdjust="spacingAndGlyphs">S=11.70m²</text>
<line x1="676.7" y1="17.6" x2="815.3" y2="17.6" stroke="#000" stroke-width="1.28"/>
<line x1="676.7" y1="26.2" x2="815.3" y2="26.2" stroke="#000" stroke-width="1.28"/>
<line x1="676.7" y1="17.6" x2="676.7" y2="147.6" stroke="#000" stroke-width="1.28"/>
<line x1="685.4" y1="17.6" x2="685.4" y2="147.6" stroke="#000" stroke-width="1.28"/>
<line x1="806.9" y1="17.6" x2="806.9" y2="147.6" stroke="#000" stroke-width="1.28"/>
<line x1="815.3" y1="17.6" x2="815.3" y2="147.6" stroke="#000" stroke-width="1.28"/>
<line x1="757" y1="17.6" x2="757" y2="26.2" stroke="#000" stroke-width="1.28"/>
<line x1="765.7" y1="17.6" x2="765.7" y2="26.2" stroke="#000" stroke-width="1.28"/>
<line x1="765.7" y1="26.2" x2="765.7" y2="147.6" stroke="#000" stroke-width="1.28" stroke-dasharray="10 3.4"/>
<line x1="765.7" y1="26.2" x2="806.9" y2="147.6" stroke="#000" stroke-width="1.28" stroke-dasharray="18 21.6" stroke-dashoffset="5.8"/>
<line x1="806.9" y1="26.2" x2="765.7" y2="147.6" stroke="#000" stroke-width="1.28" stroke-dasharray="18 21.6" stroke-dashoffset="5.8"/>
<rect x="686.7" y="30" width="21.8" height="21" fill="none" stroke="#000" stroke-width="1.41"/>
<circle cx="696.8" cy="41" r="6.3" fill="none" stroke="#000" stroke-width="1.41"/>
<line x1="709" y1="35" x2="709" y2="47.7" stroke="#000" stroke-width="2.24"/>
<line x1="708.2" y1="16.4" x2="708.2" y2="564" stroke="#000" stroke-width="1.28"/>
<text x="708.2" y="24.2" font-size="6.1" text-anchor="middle" font-weight="bold" fill="#000" textLength="11.71" lengthAdjust="spacingAndGlyphs">0.20</text>
<text x="708.2" y="89.2" font-size="6.1" text-anchor="middle" font-weight="bold" fill="#000" textLength="11.71" lengthAdjust="spacingAndGlyphs">3.00</text>
<text x="708.2" y="155.7" font-size="6.1" text-anchor="middle" font-weight="bold" fill="#000" textLength="11.71" lengthAdjust="spacingAndGlyphs">0.30</text>
<text x="708.2" y="259.2" font-size="6.1" text-anchor="middle" font-weight="bold" fill="#000" textLength="11.71" lengthAdjust="spacingAndGlyphs">4.79</text>
<text x="696" y="373.2" font-size="6.1" text-anchor="middle" font-weight="bold" fill="#000" textLength="11.71" lengthAdjust="spacingAndGlyphs">0.30</text>
<text x="708.2" y="467.2" font-size="6.1" text-anchor="middle" font-weight="bold" fill="#000" textLength="11.71" lengthAdjust="spacingAndGlyphs">4.48</text>
<text x="721" y="62.63" font-size="6.2" text-anchor="start" font-weight="bold" fill="#000" textLength="20.6" lengthAdjust="spacingAndGlyphs">SOLANA</text>
<text x="721" y="69.33" font-size="6.2" text-anchor="start" font-weight="bold" fill="#000" textLength="26.8" lengthAdjust="spacingAndGlyphs">S=6.00m²</text>
<line x1="781.3" y1="76.3" x2="806" y2="76.3" stroke="#000" stroke-width="2.46"/>
<line x1="781.3" y1="141" x2="806" y2="141" stroke="#000" stroke-width="2.69"/>
<line x1="784.2" y1="76" x2="784.2" y2="141" stroke="#000" stroke-width="1.41"/>
<line x1="790.6" y1="76" x2="790.6" y2="141" stroke="#000" stroke-width="1.41"/>
<line x1="794.6" y1="76" x2="794.6" y2="141" stroke="#000" stroke-width="1.41"/>
<line x1="798.2" y1="76" x2="798.2" y2="141" stroke="#000" stroke-width="1.41"/>
<line x1="802.8" y1="76" x2="802.8" y2="141" stroke="#000" stroke-width="1.41"/>
<text x="776.6" y="93.42" font-size="5.6" text-anchor="middle" font-weight="bold" fill="#000" textLength="31.5" lengthAdjust="spacingAndGlyphs" transform="rotate(-90 776.6 91.4)">TENDEDERO</text>
<line x1="688.4" y1="152" x2="688.4" y2="159.5" stroke="#000" stroke-width="2.24"/>
<line x1="690.6" y1="125" x2="690.6" y2="159.5" stroke="#000" stroke-width="2.02"/>
<path d="M690.6 125 A25.4 24.6 0 0 1 716 149.6" fill="none" stroke="#000" stroke-width="1.28"/>
<circle cx="719.4" cy="132.2" r="5.5" fill="#fff" stroke="#000" stroke-width="1.28"/>
<text x="719.4" y="134.13" font-size="4.8" text-anchor="middle" font-weight="bold" fill="#000" textLength="6" lengthAdjust="spacingAndGlyphs">P4</text>
<rect x="714.4" y="150.6" width="3.3" height="8.6" fill="none" stroke="#888" stroke-width="1.02"/>
<line x1="717.7" y1="147.6" x2="939.6" y2="147.6" stroke="#000" stroke-width="1.28"/>
<line x1="718.5" y1="157" x2="732.3" y2="157" stroke="#000" stroke-width="2.46"/>
<line x1="717.9" y1="147.6" x2="717.9" y2="160" stroke="#000" stroke-width="1.28"/>
<line x1="717.9" y1="160" x2="733.2" y2="160" stroke="#000" stroke-width="1.28"/>
<line x1="733.2" y1="147.6" x2="733.2" y2="322.9" stroke="#000" stroke-width="1.28"/>
<line x1="742.8" y1="147.6" x2="742.8" y2="322.9" stroke="#000" stroke-width="1.28"/>
<line x1="743.3" y1="156.7" x2="884.5" y2="156.7" stroke="#000" stroke-width="2.91"/>
<line x1="742.8" y1="159.7" x2="921" y2="159.7" stroke="#000" stroke-width="1.28"/>
<circle cx="843" cy="147.5" r="19.5" fill="none" stroke="#000" stroke-width="1.28"/>
<line x1="846" y1="146" x2="956" y2="101" stroke="#000" stroke-width="1.09"/>
<line x1="846" y1="146.3" x2="956" y2="116.2" stroke="#000" stroke-width="1.09"/>
<text x="947" y="168.11" font-size="9.2" text-anchor="middle" font-weight="bold" fill="#000" class="sf" font-style="italic">A</text>
<line x1="836" y1="170" x2="953.5" y2="170" stroke="#000" stroke-width="1.28"/>
<line x1="816" y1="170" x2="831" y2="170" stroke="#777" stroke-width="1.28"/>
<path d="M942.2 172.8 L952.2 172.8 L947.2 181.2 Z" fill="none" stroke="#000" stroke-width="1.28"/>
<path d="M763.4 160.2 C760.6 172 768 184.5 782.4 184.5 C797 184.5 804.4 172 801.4 160.2" fill="none" stroke="#000" stroke-width="1.28"/>
<ellipse cx="782" cy="173.2" rx="16.2" ry="11.2" fill="none" stroke="#000" stroke-width="1.41"/>
<path d="M782.2 170.5 V179.5 M779.2 166.6 L782.2 171.5 L785.2 166.6" fill="none" stroke="#000" stroke-width="1.15"/>
<circle cx="777.2" cy="171.4" r="1.1" fill="#000" stroke="#000" stroke-width="0.9"/>
<circle cx="787.3" cy="171.4" r="1.1" fill="#000" stroke="#000" stroke-width="0.9"/>
<line x1="732" y1="179.8" x2="899" y2="179.8" stroke="#000" stroke-width="1.28"/>
<rect x="807.64" y="177.36" width="12.71" height="4.88" fill="#fff"/>
<text x="814" y="182" font-size="6.1" text-anchor="middle" font-weight="bold" fill="#000" textLength="11.71" lengthAdjust="spacingAndGlyphs">3.50</text>
<text x="752.5" y="187.7" font-size="6.1" text-anchor="middle" font-weight="bold" fill="#000" textLength="11.71" lengthAdjust="spacingAndGlyphs">0.25</text>
<line x1="792" y1="157.6" x2="792" y2="264.3" stroke="#000" stroke-width="1.28"/>
<text x="793.5" y="212.2" font-size="6.1" text-anchor="middle" font-weight="bold" fill="#000" textLength="11.71" lengthAdjust="spacingAndGlyphs">2.30</text>
<rect x="844.4" y="162.5" width="38.6" height="39.5" fill="none" stroke="#666" stroke-width="1.02"/>
<rect x="846.2" y="164.3" width="35" height="35.9" fill="none" stroke="#888" stroke-width="0.9"/>
<rect x="848" y="166.1" width="31.4" height="32.3" fill="none" stroke="#555" stroke-width="1.02"/>
<line x1="866.54" y1="182.79" x2="876.56" y2="184.78" stroke="#000" stroke-width="0.9"/>
<line x1="866.09" y1="183.87" x2="876.56" y2="190.86" stroke="#000" stroke-width="0.9"/>
<line x1="865.27" y1="184.69" x2="872.26" y2="195.16" stroke="#000" stroke-width="0.9"/>
<line x1="864.19" y1="185.14" x2="866.18" y2="195.16" stroke="#000" stroke-width="0.9"/>
<line x1="863.01" y1="185.14" x2="861.02" y2="195.16" stroke="#000" stroke-width="0.9"/>
<line x1="861.93" y1="184.69" x2="854.94" y2="195.16" stroke="#000" stroke-width="0.9"/>
<line x1="861.11" y1="183.87" x2="850.64" y2="190.86" stroke="#000" stroke-width="0.9"/>
<line x1="860.66" y1="182.79" x2="850.64" y2="184.78" stroke="#000" stroke-width="0.9"/>
<line x1="860.66" y1="181.61" x2="850.64" y2="179.62" stroke="#000" stroke-width="0.9"/>
<line x1="861.11" y1="180.53" x2="850.64" y2="173.54" stroke="#000" stroke-width="0.9"/>
<line x1="861.93" y1="179.71" x2="854.94" y2="169.24" stroke="#000" stroke-width="0.9"/>
<line x1="863.01" y1="179.26" x2="861.02" y2="169.24" stroke="#000" stroke-width="0.9"/>
<line x1="864.19" y1="179.26" x2="866.18" y2="169.24" stroke="#000" stroke-width="0.9"/>
<line x1="865.27" y1="179.71" x2="872.26" y2="169.24" stroke="#000" stroke-width="0.9"/>
<line x1="866.09" y1="180.53" x2="876.56" y2="173.54" stroke="#000" stroke-width="0.9"/>
<line x1="866.54" y1="181.61" x2="876.56" y2="179.62" stroke="#000" stroke-width="0.9"/>
<circle cx="863.6" cy="182.2" r="1.2" fill="#000" stroke="#000" stroke-width="1.02"/>
<text x="811" y="211.03" font-size="6.2" text-anchor="start" font-weight="bold" fill="#000" textLength="20" lengthAdjust="spacingAndGlyphs">BAÑO 2</text>
<text x="811" y="217.23" font-size="6.2" text-anchor="start" font-weight="bold" fill="#000" textLength="26.7" lengthAdjust="spacingAndGlyphs">S=6.75m²</text>
<rect x="828.8" y="248.6" width="22" height="10.4" fill="none" stroke="#000" stroke-width="1.41" rx="1"/>
<circle cx="839.4" cy="254.5" r="0.8" fill="#000" stroke="#000" stroke-width="0.77"/>
<path d="M832 248.4 C830.6 236 832 228.2 839.7 228.2 C847.6 228.2 849 236 847.7 248.4" fill="none" stroke="#000" stroke-width="1.28"/>
<ellipse cx="839.6" cy="236.8" rx="6" ry="7.9" fill="none" stroke="#000" stroke-width="1.41"/>
<ellipse cx="839.6" cy="239.4" rx="2.7" ry="1.3" fill="#666" stroke="#555" stroke-width="0.77"/>
<path d="M851.2 253 L853 254.5 L851.2 256 Z" fill="#000" stroke="#000" stroke-width="0.64"/>
<circle cx="875" cy="233.2" r="5.5" fill="#fff" stroke="#000" stroke-width="1.28"/>
<text x="875" y="235.13" font-size="4.8" text-anchor="middle" font-weight="bold" fill="#000" textLength="6" lengthAdjust="spacingAndGlyphs">V1</text>
<line x1="885.6" y1="159.7" x2="885.6" y2="296" stroke="#000" stroke-width="1.28"/>
<line x1="888.7" y1="159.7" x2="888.7" y2="213.6" stroke="#000" stroke-width="2.46"/>
<rect x="885" y="213.5" width="3.5" height="33.5" fill="#000" stroke="#000" stroke-width="0"/>
<line x1="899" y1="213.5" x2="899" y2="247" stroke="#000" stroke-width="2.13"/>
<line x1="885.6" y1="214.5" x2="899" y2="214.5" stroke="#000" stroke-width="2.13"/>
<line x1="885.6" y1="246" x2="899" y2="246" stroke="#000" stroke-width="2.13"/>
<line x1="888.7" y1="250.5" x2="888.7" y2="296" stroke="#000" stroke-width="2.46"/>
<rect x="885.6" y="296" width="12.2" height="13" fill="none" stroke="#000" stroke-width="1.28"/>
<line x1="888.7" y1="311" x2="888.7" y2="316" stroke="#000" stroke-width="2.46"/>
<rect x="885" y="316.6" width="3.5" height="36" fill="#000" stroke="#000" stroke-width="0"/>
<line x1="899" y1="316.6" x2="899" y2="352.6" stroke="#000" stroke-width="2.13"/>
<line x1="885.6" y1="317.6" x2="899" y2="317.6" stroke="#000" stroke-width="2.13"/>
<line x1="885.6" y1="351.6" x2="899" y2="351.6" stroke="#000" stroke-width="2.13"/>
<line x1="888.7" y1="355" x2="888.7" y2="409.4" stroke="#000" stroke-width="2.46"/>
<line x1="885.6" y1="309" x2="885.6" y2="410" stroke="#000" stroke-width="1.28"/>
<rect x="885.6" y="410" width="12.2" height="13" fill="none" stroke="#000" stroke-width="1.28"/>
<line x1="886" y1="423" x2="886" y2="551.6" stroke="#000" stroke-width="1.28"/>
<line x1="889" y1="423" x2="889" y2="551.6" stroke="#000" stroke-width="2.46"/>
<line x1="898.3" y1="114" x2="898.3" y2="564" stroke="#000" stroke-width="1.28"/>
<line x1="896.5" y1="117.6" x2="901" y2="117.6" stroke="#000" stroke-width="1.28"/>
<line x1="921" y1="146" x2="921" y2="566.4" stroke="#000" stroke-width="1.28"/>
<line x1="939.5" y1="145" x2="939.5" y2="566.4" stroke="#000" stroke-width="1.28"/>
<text x="921" y="155.5" font-size="6.1" text-anchor="middle" font-weight="bold" fill="#000" textLength="11.71" lengthAdjust="spacingAndGlyphs">0.30</text>
<text x="906.3" y="186.8" font-size="6.1" text-anchor="middle" font-weight="bold" fill="#000" textLength="11.71" lengthAdjust="spacingAndGlyphs">0.30</text>
<text x="921" y="212.2" font-size="6.1" text-anchor="middle" font-weight="bold" fill="#000" textLength="11.71" lengthAdjust="spacingAndGlyphs">2.30</text>
<text x="914" y="272" font-size="6.1" text-anchor="middle" font-weight="bold" fill="#000" textLength="11.71" lengthAdjust="spacingAndGlyphs">0.05</text>
<text x="921" y="337.7" font-size="6.1" text-anchor="middle" font-weight="bold" fill="#000" textLength="11.71" lengthAdjust="spacingAndGlyphs">3.50</text>
<text x="939" y="358.2" font-size="6.1" text-anchor="middle" font-weight="bold" fill="#000" textLength="14.64" lengthAdjust="spacingAndGlyphs">10.20</text>
<text x="913" y="416.7" font-size="6.1" text-anchor="middle" font-weight="bold" fill="#000" textLength="11.71" lengthAdjust="spacingAndGlyphs">0.06</text>
<text x="921" y="483.2" font-size="6.1" text-anchor="middle" font-weight="bold" fill="#000" textLength="11.71" lengthAdjust="spacingAndGlyphs">3.00</text>
<text x="921" y="559.7" font-size="6.1" text-anchor="middle" font-weight="bold" fill="#000" textLength="11.71" lengthAdjust="spacingAndGlyphs">0.30</text>
<line x1="748.4" y1="234" x2="748.4" y2="260.8" stroke="#000" stroke-width="1.79"/>
<path d="M748.4 234 A26.5 26.8 0 0 1 774.9 260.8" fill="none" stroke="#000" stroke-width="1.28"/>
<line x1="742.8" y1="260.8" x2="748.4" y2="260.8" stroke="#000" stroke-width="1.28"/>
<circle cx="762" cy="259" r="5.5" fill="#fff" stroke="#000" stroke-width="1.28"/>
<text x="762" y="260.93" font-size="4.8" text-anchor="middle" font-weight="bold" fill="#000" textLength="6" lengthAdjust="spacingAndGlyphs">P5</text>
<line x1="774.9" y1="260.8" x2="921" y2="260.8" stroke="#000" stroke-width="1.28"/>
<line x1="774.9" y1="264.3" x2="921" y2="264.3" stroke="#000" stroke-width="1.28"/>
<line x1="774.9" y1="260.3" x2="774.9" y2="264.8" stroke="#000" stroke-width="2.24"/>
<line x1="786.8" y1="264.3" x2="786.8" y2="322.9" stroke="#000" stroke-width="1.28"/>
<line x1="790" y1="264.3" x2="790" y2="322.9" stroke="#000" stroke-width="1.28"/>
<line x1="837.4" y1="264.3" x2="837.4" y2="406.5" stroke="#000" stroke-width="1.28"/>
<line x1="733.2" y1="314.6" x2="774" y2="314.6" stroke="#000" stroke-width="2.69"/>
<path d="M774 314.6 A31.1 30.9 0 0 1 742.9 345.5" fill="none" stroke="#000" stroke-width="1.28"/>
<circle cx="726.5" cy="335.8" r="5.8" fill="#fff" stroke="#000" stroke-width="1.28"/>
<text x="726.5" y="337.73" font-size="4.8" text-anchor="middle" font-weight="bold" fill="#000" textLength="6" lengthAdjust="spacingAndGlyphs">P5</text>
<line x1="786.8" y1="314.6" x2="816" y2="314.6" stroke="#000" stroke-width="2.69"/>
<path d="M816 314.6 A26 26 0 0 1 790 340.6" fill="none" stroke="#000" stroke-width="1.28"/>
<circle cx="807.3" cy="344" r="5.8" fill="#fff" stroke="#000" stroke-width="1.28"/>
<text x="807.3" y="345.93" font-size="4.8" text-anchor="middle" font-weight="bold" fill="#000" textLength="6" lengthAdjust="spacingAndGlyphs">P6</text>
<line x1="786.8" y1="340.4" x2="786.8" y2="406.5" stroke="#000" stroke-width="1.28"/>
<line x1="790" y1="340.4" x2="790" y2="406.5" stroke="#000" stroke-width="1.28"/>
<line x1="786.3" y1="340.6" x2="790.5" y2="340.6" stroke="#000" stroke-width="1.79"/>
<line x1="733.2" y1="343.5" x2="742.9" y2="343.5" stroke="#000" stroke-width="2.02"/>
<line x1="733.2" y1="345.8" x2="742.9" y2="345.8" stroke="#000" stroke-width="1.28"/>
<line x1="733.2" y1="343.3" x2="733.2" y2="551.6" stroke="#000" stroke-width="1.28"/>
<line x1="742.9" y1="343.3" x2="742.9" y2="366" stroke="#000" stroke-width="1.28"/>
<line x1="738.4" y1="366" x2="738.4" y2="551.6" stroke="#000" stroke-width="1.28"/>
<line x1="742" y1="366" x2="742" y2="551.6" stroke="#000" stroke-width="2.58"/>
<line x1="779.6" y1="406.5" x2="922" y2="406.5" stroke="#000" stroke-width="1.28"/>
<line x1="779.6" y1="409.8" x2="922" y2="409.8" stroke="#000" stroke-width="1.28"/>
<line x1="779.6" y1="406.5" x2="779.6" y2="409.8" stroke="#000" stroke-width="1.57"/>
<rect x="758.24" y="319.86" width="12.71" height="4.88" fill="#fff"/>
<text x="764.6" y="324.5" font-size="6.1" text-anchor="middle" font-weight="bold" fill="#000" textLength="11.71" lengthAdjust="spacingAndGlyphs">1.05</text>
<rect x="838.14" y="319.86" width="12.71" height="4.88" fill="#fff"/>
<text x="844.5" y="324.5" font-size="6.1" text-anchor="middle" font-weight="bold" fill="#000" textLength="11.71" lengthAdjust="spacingAndGlyphs">2.35</text>
<text x="738.8" y="330.8" font-size="6.1" text-anchor="middle" font-weight="bold" fill="#000" textLength="11.71" lengthAdjust="spacingAndGlyphs">0.25</text>
<text x="785.3" y="329" font-size="6.1" text-anchor="middle" font-weight="bold" fill="#000" textLength="11.71" lengthAdjust="spacingAndGlyphs">0.20</text>
<circle cx="877" cy="332.5" r="5.5" fill="#fff" stroke="#000" stroke-width="1.28"/>
<text x="877" y="334.43" font-size="4.8" text-anchor="middle" font-weight="bold" fill="#000" textLength="6" lengthAdjust="spacingAndGlyphs">V1</text>
<text x="841.5" y="351.43" font-size="6.2" text-anchor="start" font-weight="bold" fill="#000" textLength="25.5" lengthAdjust="spacingAndGlyphs">VESTIDOR</text>
<text x="841.5" y="358.03" font-size="6.2" text-anchor="start" font-weight="bold" fill="#000" textLength="26.6" lengthAdjust="spacingAndGlyphs">S=8.25m²</text>
<text x="748" y="369.63" font-size="6.2" text-anchor="start" font-weight="bold" fill="#000" textLength="14" lengthAdjust="spacingAndGlyphs">PASO</text>
<text x="748" y="376.43" font-size="6.2" text-anchor="start" font-weight="bold" fill="#000" textLength="28" lengthAdjust="spacingAndGlyphs">S=3.57m²</text>
<text x="841.4" y="370.81" font-size="9.2" text-anchor="middle" font-weight="bold" fill="#000" class="sf" font-style="italic">D</text>
<text x="947.8" y="370.81" font-size="9.2" text-anchor="middle" font-weight="bold" fill="#000" class="sf" font-style="italic">C</text>
<line x1="835.5" y1="372.7" x2="953.8" y2="372.7" stroke="#000" stroke-width="1.28"/>
<path d="M834.8 375.6 L845 375.6 L839.8 383.6 Z" fill="none" stroke="#000" stroke-width="1.28"/>
<path d="M942.3 375.6 L952.5 375.6 L947.4 383.6 Z" fill="none" stroke="#000" stroke-width="1.28"/>
<text x="811" y="490.63" font-size="6.2" text-anchor="start" font-weight="bold" fill="#000" textLength="38.5" lengthAdjust="spacingAndGlyphs">DORMITORIO 2</text>
<text x="811" y="497.43" font-size="6.2" text-anchor="start" font-weight="bold" fill="#000" textLength="30" lengthAdjust="spacingAndGlyphs">S=12.25m²</text>
<rect x="808.14" y="537.86" width="12.71" height="4.88" fill="#fff"/>
<text x="814.5" y="542.5" font-size="6.1" text-anchor="middle" font-weight="bold" fill="#000" textLength="11.71" lengthAdjust="spacingAndGlyphs">2.50</text>
<text x="755.8" y="547" font-size="6.1" text-anchor="middle" font-weight="bold" fill="#000" textLength="11.71" lengthAdjust="spacingAndGlyphs">0.30</text>
<line x1="732.3" y1="551.6" x2="922.4" y2="551.6" stroke="#000" stroke-width="1.28"/>
<line x1="717" y1="564" x2="939.7" y2="564" stroke="#000" stroke-width="1.28"/>
<line x1="732.3" y1="551.6" x2="732.3" y2="564" stroke="#000" stroke-width="1.28"/>
<line x1="742.4" y1="551.6" x2="742.4" y2="564" stroke="#000" stroke-width="1.28"/>
<line x1="886" y1="551.6" x2="886" y2="564" stroke="#000" stroke-width="1.28"/>
<line x1="743.5" y1="555.8" x2="788.6" y2="555.8" stroke="#000" stroke-width="2.69"/>
<line x1="858.2" y1="555.8" x2="885" y2="555.8" stroke="#000" stroke-width="2.69"/>
<rect x="792.2" y="551" width="64.4" height="4.5" fill="#000" stroke="#000" stroke-width="0"/>
<line x1="793.2" y1="564.2" x2="855.6" y2="564.2" stroke="#000" stroke-width="1.46"/>
<line x1="793.2" y1="550.8" x2="793.2" y2="564.7" stroke="#000" stroke-width="2.46"/>
<line x1="855.6" y1="550.8" x2="855.6" y2="564.7" stroke="#000" stroke-width="2.46"/>
<circle cx="833.6" cy="571.8" r="5.5" fill="#fff" stroke="#000" stroke-width="1.28"/>
<text x="833.6" y="573.73" font-size="4.8" text-anchor="middle" font-weight="bold" fill="#000" textLength="6" lengthAdjust="spacingAndGlyphs">P7</text>
<line x1="706" y1="564" x2="717" y2="564" stroke="#000" stroke-width="1.28"/>
<text x="151" y="893.67" font-size="10.2" text-anchor="start" font-weight="bold" fill="#000" class="sf" font-style="italic" textLength="37" lengthAdjust="spacingAndGlyphs">PLANTA</text>
<text x="194.5" y="893.67" font-size="10.2" text-anchor="start" font-weight="bold" fill="#000" class="sf" font-style="italic" textLength="38.5" lengthAdjust="spacingAndGlyphs">SOTANO</text>
<line x1="110.5" y1="629" x2="897.5" y2="629" stroke="#000" stroke-width="1.54"/>
<line x1="110.5" y1="629" x2="110.5" y2="694" stroke="#000" stroke-width="1.54"/>
<line x1="110.5" y1="694" x2="258.5" y2="694" stroke="#000" stroke-width="1.54"/>
<line x1="122" y1="641.4" x2="353" y2="641.4" stroke="#000" stroke-width="1.28"/>
<line x1="361.5" y1="641.4" x2="886" y2="641.4" stroke="#000" stroke-width="1.28"/>
<line x1="120" y1="650" x2="310" y2="650" stroke="#000" stroke-width="1.28"/>
<line x1="323.2" y1="650" x2="361.5" y2="650" stroke="#000" stroke-width="1.28"/>
<line x1="361.5" y1="650" x2="713.5" y2="650" stroke="#000" stroke-width="1.28"/>
<line x1="122" y1="661" x2="292.4" y2="661" stroke="#000" stroke-width="1.28"/>
<line x1="122" y1="681" x2="353" y2="681" stroke="#000" stroke-width="1.28"/>
<line x1="361.5" y1="681" x2="449" y2="681" stroke="#000" stroke-width="1.28"/>
<line x1="122" y1="641.4" x2="122" y2="681" stroke="#000" stroke-width="1.28"/>
<line x1="133.36" y1="641.4" x2="133.36" y2="681" stroke="#000" stroke-width="1.28"/>
<line x1="144.72" y1="641.4" x2="144.72" y2="681" stroke="#000" stroke-width="1.28"/>
<line x1="156.08" y1="641.4" x2="156.08" y2="681" stroke="#000" stroke-width="1.28"/>
<line x1="167.44" y1="641.4" x2="167.44" y2="681" stroke="#000" stroke-width="1.28"/>
<line x1="178.8" y1="641.4" x2="178.8" y2="681" stroke="#000" stroke-width="1.28"/>
<line x1="190.16" y1="641.4" x2="190.16" y2="681" stroke="#000" stroke-width="1.28"/>
<line x1="201.52" y1="641.4" x2="201.52" y2="681" stroke="#000" stroke-width="1.28"/>
<line x1="212.88" y1="641.4" x2="212.88" y2="681" stroke="#000" stroke-width="1.28"/>
<line x1="224.24" y1="641.4" x2="224.24" y2="681" stroke="#000" stroke-width="1.28"/>
<line x1="235.6" y1="641.4" x2="235.6" y2="681" stroke="#000" stroke-width="1.28"/>
<line x1="246.96" y1="641.4" x2="246.96" y2="681" stroke="#000" stroke-width="1.28"/>
<line x1="258.32" y1="641.4" x2="258.32" y2="681" stroke="#000" stroke-width="1.28"/>
<line x1="269.68" y1="641.4" x2="269.68" y2="681" stroke="#000" stroke-width="1.28"/>
<line x1="281.04" y1="641.4" x2="281.04" y2="681" stroke="#000" stroke-width="1.28"/>
<line x1="292.4" y1="641.4" x2="292.4" y2="681" stroke="#000" stroke-width="1.57"/>
<line x1="122.2" y1="661" x2="134" y2="642" stroke="#000" stroke-width="1.28"/>
<line x1="122.2" y1="661" x2="134" y2="680.5" stroke="#000" stroke-width="1.28"/>
<rect x="202.62" y="647.76" width="11.75" height="4.48" fill="#fff"/>
<text x="208.5" y="652.02" font-size="5.6" text-anchor="middle" font-weight="bold" fill="#000" textLength="10.75" lengthAdjust="spacingAndGlyphs">1.20</text>
<rect x="310.14" y="647.56" width="12.71" height="4.88" fill="#fff"/>
<text x="316.5" y="652.2" font-size="6.1" text-anchor="middle" font-weight="bold" fill="#000" textLength="11.71" lengthAdjust="spacingAndGlyphs">1.50</text>
<line x1="258.5" y1="629" x2="258.5" y2="641.4" stroke="#000" stroke-width="1.28"/>
<line x1="271" y1="629" x2="271" y2="641.4" stroke="#000" stroke-width="1.28"/>
<line x1="364" y1="629" x2="364" y2="641.4" stroke="#000" stroke-width="1.28"/>
<line x1="375.5" y1="629" x2="375.5" y2="641.4" stroke="#000" stroke-width="1.28"/>
<line x1="561.2" y1="629" x2="561.2" y2="641.4" stroke="#000" stroke-width="1.28"/>
<line x1="571.2" y1="629" x2="571.2" y2="641.4" stroke="#000" stroke-width="1.28"/>
<line x1="353" y1="643.6" x2="361.5" y2="643.6" stroke="#000" stroke-width="2.91"/>
<line x1="353" y1="641.4" x2="353" y2="650" stroke="#000" stroke-width="1.28"/>
<line x1="361.5" y1="641.4" x2="361.5" y2="650" stroke="#000" stroke-width="1.28"/>
<path d="M323.4 650 A29.6 24.4 0 0 0 353 674.4" fill="none" stroke="#000" stroke-width="1.28"/>
<line x1="323.2" y1="644.5" x2="353" y2="644.5" stroke="#000" stroke-width="1.28"/>
<line x1="323.4" y1="644.5" x2="323.4" y2="650" stroke="#000" stroke-width="1.28"/>
<line x1="353" y1="675" x2="361.5" y2="675" stroke="#000" stroke-width="2.91"/>
<line x1="353" y1="675" x2="353" y2="681" stroke="#000" stroke-width="1.28"/>
<line x1="361.5" y1="675" x2="361.5" y2="689.5" stroke="#000" stroke-width="1.28"/>
<text x="335" y="659.32" font-size="5.6" text-anchor="start" font-weight="bold" fill="#000" textLength="13" lengthAdjust="spacingAndGlyphs">R=90</text>
<circle cx="357.6" cy="663.5" r="5.2" fill="#fff" stroke="#000" stroke-width="1.28"/>
<text x="357.6" y="665.43" font-size="4.8" text-anchor="middle" font-weight="bold" fill="#000" textLength="6" lengthAdjust="spacingAndGlyphs">P2</text>
<text x="300.6" y="670.69" font-size="5.8" text-anchor="start" font-weight="bold" fill="#000" textLength="26" lengthAdjust="spacingAndGlyphs">ESCALERA</text>
<text x="369.5" y="656.4" font-size="6.1" text-anchor="middle" font-weight="bold" fill="#000" textLength="11.71" lengthAdjust="spacingAndGlyphs">0.20</text>
<line x1="270.5" y1="689.5" x2="451.5" y2="689.5" stroke="#000" stroke-width="1.28"/>
<line x1="271" y1="689.5" x2="271" y2="847.5" stroke="#000" stroke-width="1.28"/>
<line x1="258.5" y1="694" x2="258.5" y2="847.5" stroke="#000" stroke-width="1.28"/>
<line x1="449" y1="639" x2="449" y2="837.5" stroke="#000" stroke-width="1.28"/>
<text x="449" y="664.2" font-size="6.1" text-anchor="middle" font-weight="bold" fill="#000" textLength="11.71" lengthAdjust="spacingAndGlyphs">1.00</text>
<text x="449" y="687.7" font-size="6.1" text-anchor="middle" font-weight="bold" fill="#000" textLength="11.71" lengthAdjust="spacingAndGlyphs">0.20</text>
<text x="449" y="764.7" font-size="6.1" text-anchor="middle" font-weight="bold" fill="#000" textLength="11.71" lengthAdjust="spacingAndGlyphs">3.59</text>
<rect x="530.64" y="647.56" width="12.71" height="4.88" fill="#fff"/>
<text x="537" y="652.2" font-size="6.1" text-anchor="middle" font-weight="bold" fill="#000" textLength="11.71" lengthAdjust="spacingAndGlyphs">6.60</text>
<text x="593.5" y="724.43" font-size="6.2" text-anchor="start" font-weight="bold" fill="#000" textLength="20.5" lengthAdjust="spacingAndGlyphs">GARAJE</text>
<text x="593.5" y="731.23" font-size="6.2" text-anchor="start" font-weight="bold" fill="#000" textLength="30" lengthAdjust="spacingAndGlyphs">S=69.73m²</text>
<line x1="682.5" y1="627.5" x2="682.5" y2="1048" stroke="#000" stroke-width="1.28"/>
<text x="682.5" y="637.7" font-size="6.1" text-anchor="middle" font-weight="bold" fill="#000" textLength="11.71" lengthAdjust="spacingAndGlyphs">0.30</text>
<text x="682.5" y="839.2" font-size="6.1" text-anchor="middle" font-weight="bold" fill="#000" textLength="11.71" lengthAdjust="spacingAndGlyphs">5.00</text>
<text x="682.5" y="1041.2" font-size="6.1" text-anchor="middle" font-weight="bold" fill="#000" textLength="11.71" lengthAdjust="spacingAndGlyphs">0.30</text>
<circle cx="702" cy="674.5" r="5.5" fill="#fff" stroke="#000" stroke-width="1.28"/>
<text x="702" y="676.43" font-size="4.8" text-anchor="middle" font-weight="bold" fill="#000" textLength="6" lengthAdjust="spacingAndGlyphs">P1</text>
<line x1="713.5" y1="629" x2="713.5" y2="650" stroke="#000" stroke-width="1.28"/>
<rect x="713.3" y="648.9" width="3.4" height="122.1" fill="#000" stroke="#000" stroke-width="0"/>
<line x1="713.8" y1="771" x2="713.8" y2="1080" stroke="#000" stroke-width="1.28"/>
<line x1="724.7" y1="629" x2="724.7" y2="1080" stroke="#000" stroke-width="1.68"/>
<line x1="713.8" y1="649.5" x2="724.7" y2="649.5" stroke="#000" stroke-width="1.28"/>
<line x1="713.8" y1="771" x2="724.7" y2="771" stroke="#000" stroke-width="1.28"/>
<line x1="713.8" y1="778.5" x2="724.7" y2="778.5" stroke="#000" stroke-width="1.28"/>
<line x1="713.8" y1="791" x2="724.7" y2="791" stroke="#000" stroke-width="1.28"/>
<line x1="713.8" y1="891" x2="724.7" y2="891" stroke="#000" stroke-width="1.28"/>
<line x1="713.8" y1="905" x2="724.7" y2="905" stroke="#000" stroke-width="1.28"/>
<line x1="713.8" y1="1032.5" x2="724.7" y2="1032.5" stroke="#000" stroke-width="1.28"/>
<line x1="713.8" y1="1046" x2="724.7" y2="1046" stroke="#000" stroke-width="1.28"/>
<line x1="258.5" y1="809.6" x2="727.6" y2="809.6" stroke="#333" stroke-width="1.15"/>
<text x="264.5" y="811.8" font-size="6.1" text-anchor="middle" font-weight="bold" fill="#000" textLength="11.71" lengthAdjust="spacingAndGlyphs">0.30</text>
<rect x="414.64" y="807.16" width="12.71" height="4.88" fill="#fff"/>
<text x="421" y="811.8" font-size="6.1" text-anchor="middle" font-weight="bold" fill="#000" textLength="11.71" lengthAdjust="spacingAndGlyphs">7.53</text>
<rect x="636.64" y="807.16" width="12.71" height="4.88" fill="#fff"/>
<text x="643" y="811.8" font-size="6.1" text-anchor="middle" font-weight="bold" fill="#000" textLength="11.71" lengthAdjust="spacingAndGlyphs">3.60</text>
<text x="719.5" y="810.7" font-size="6.1" text-anchor="middle" font-weight="bold" fill="#000" textLength="11.71" lengthAdjust="spacingAndGlyphs">0.30</text>
<line x1="571.6" y1="806" x2="571.6" y2="813" stroke="#000" stroke-width="1.28"/>
<line x1="258.5" y1="834.5" x2="571.2" y2="834.5" stroke="#000" stroke-width="1.28"/>
<line x1="258.5" y1="847.5" x2="571.2" y2="847.5" stroke="#000" stroke-width="1.28"/>
<line x1="364" y1="834.5" x2="364" y2="847.5" stroke="#000" stroke-width="1.28"/>
<line x1="375.8" y1="834.5" x2="375.8" y2="847.5" stroke="#000" stroke-width="1.28"/>
<line x1="558.5" y1="834.5" x2="558.5" y2="1046" stroke="#000" stroke-width="1.28"/>
<line x1="571.2" y1="809.6" x2="571.2" y2="1046" stroke="#000" stroke-width="1.28"/>
<line x1="558.5" y1="1032.5" x2="717" y2="1032.5" stroke="#000" stroke-width="1.28"/>
<line x1="558.5" y1="1046" x2="717" y2="1046" stroke="#000" stroke-width="1.28"/>
<line x1="897.5" y1="629" x2="897.5" y2="1080" stroke="#000" stroke-width="1.54"/>
<line x1="886" y1="641.4" x2="886" y2="1080" stroke="#000" stroke-width="1.28"/>
<line x1="872.6" y1="639" x2="872.6" y2="1080" stroke="#000" stroke-width="1.28"/>
<line x1="722.5" y1="661" x2="887" y2="661" stroke="#000" stroke-width="1.28"/>
<rect x="798.64" y="658.56" width="12.71" height="4.88" fill="#fff"/>
<text x="805" y="663.2" font-size="6.1" text-anchor="middle" font-weight="bold" fill="#000" textLength="11.71" lengthAdjust="spacingAndGlyphs">3.65</text>
<text x="872.6" y="724.2" font-size="6.1" text-anchor="middle" font-weight="bold" fill="#000" textLength="11.71" lengthAdjust="spacingAndGlyphs">4.00</text>
<line x1="724.7" y1="803.3" x2="886" y2="803.3" stroke="#444" stroke-width="1.15"/>
<line x1="725.5" y1="806" x2="775" y2="1080" stroke="#000" stroke-width="1.02"/>
<line x1="885" y1="805" x2="856" y2="1080" stroke="#000" stroke-width="1.02"/>
<text x="831" y="1005.02" font-size="5.6" text-anchor="middle" font-weight="bold" fill="#000" textLength="74" lengthAdjust="spacingAndGlyphs" transform="rotate(-90 831 1003)">RAMPA PENDIENTE &lt; 20%</text>
<text x="873" y="1001.44" font-size="5.4" text-anchor="middle" font-weight="bold" fill="#000" textLength="12.96" lengthAdjust="spacingAndGlyphs">14.28</text>
<line x1="864.5" y1="1003.2" x2="881.5" y2="1003.2" stroke="#000" stroke-width="1.28"/>
</g>
</svg>
</body></html>
